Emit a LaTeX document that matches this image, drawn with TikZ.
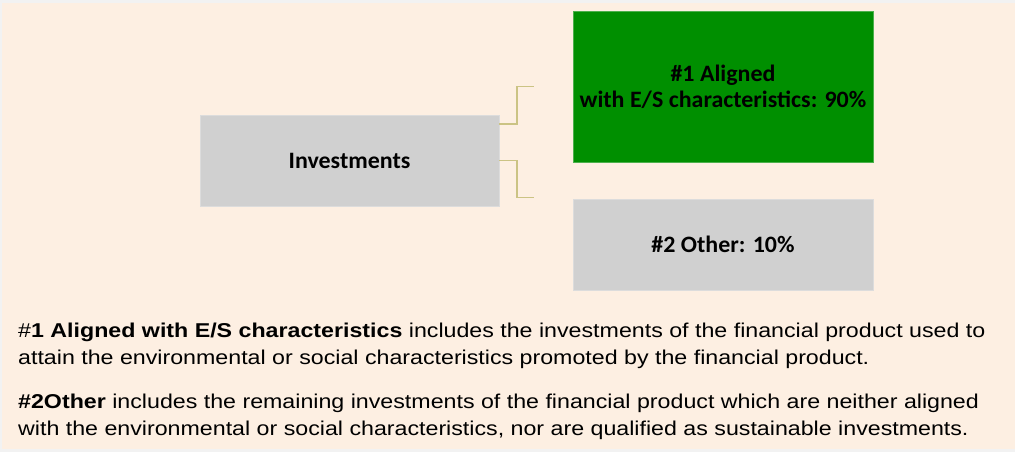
\documentclass[tikz,border=0pt]{standalone}
\usepackage{fontspec}
\setmainfont[FakeStretch=1.16]{Liberation Sans}
\newfontfamily\boxfont[FakeStretch=1.02]{Carlito}
\usetikzlibrary{positioning,calc}

\definecolor{peach}{HTML}{FDEFE2}
\definecolor{boxgray}{HTML}{D0D0D0}
\definecolor{boxline}{HTML}{DCDCDC}
\definecolor{alignedgreen}{HTML}{008F00}
\definecolor{greenline}{HTML}{4CB04C}
\definecolor{linkcol}{HTML}{CBC384}

\begin{document}
\begin{tikzpicture}[x=1pt, y=-1pt,
    box/.style={draw=boxline, line width=0.8pt, fill=boxgray, minimum width=299pt,
      minimum height=91pt, inner sep=0pt, align=center,
      font=\boxfont\bfseries\fontsize{23.5}{26}\selectfont},
    link/.style={draw=linkcol, line width=1.5pt},
    body/.style={inner sep=0pt, align=left, anchor=base west,
      font=\fontsize{20}{26.5}\selectfont}]
    % Background
    \useasboundingbox (0,0) rectangle (1015,452);
    \fill[gray!10] (0,0) rectangle (1015,452);
    \fill[peach] (2,3) rectangle (1015,449);

    % Boxes
    \node[box] (inv) at (349.5,160.5) {Investments};
    \node[box, fill=alignedgreen, draw=greenline, minimum width=300pt,
      minimum height=151pt] (aligned) at (723,86.5) {\#1 Aligned\\with E/S characteristics: 90\%};
    \node[box, minimum width=300pt] (other) at (723,244.5) {\#2 Other: 10\%};

    % Connectors
    \coordinate (alignedend) at ($(aligned.west)+(-39,0)$);
    \coordinate (otherend) at ($(other.north west)+(-39,-1)$);
    \draw[link] ([yshift=36.5pt]inv.east) -- ++(17.5,0) |- (alignedend);
    \draw[link] (inv.east) -- ++(17.5,0) |- (otherend);

    % Notes (anchored on the last line's baseline)
    \node[body] (note1) at (18,364) {\#\textbf{1 Aligned with E/S characteristics} includes the investments of the financial product used to\\attain the environmental or social characteristics promoted by the financial product.};
    \node[body] (note2) at (18,435) {\textbf{\#2Other} includes the remaining investments of the financial product which are neither aligned\\with the environmental or social characteristics, nor are qualified as sustainable investments.};
\end{tikzpicture}
\end{document}
